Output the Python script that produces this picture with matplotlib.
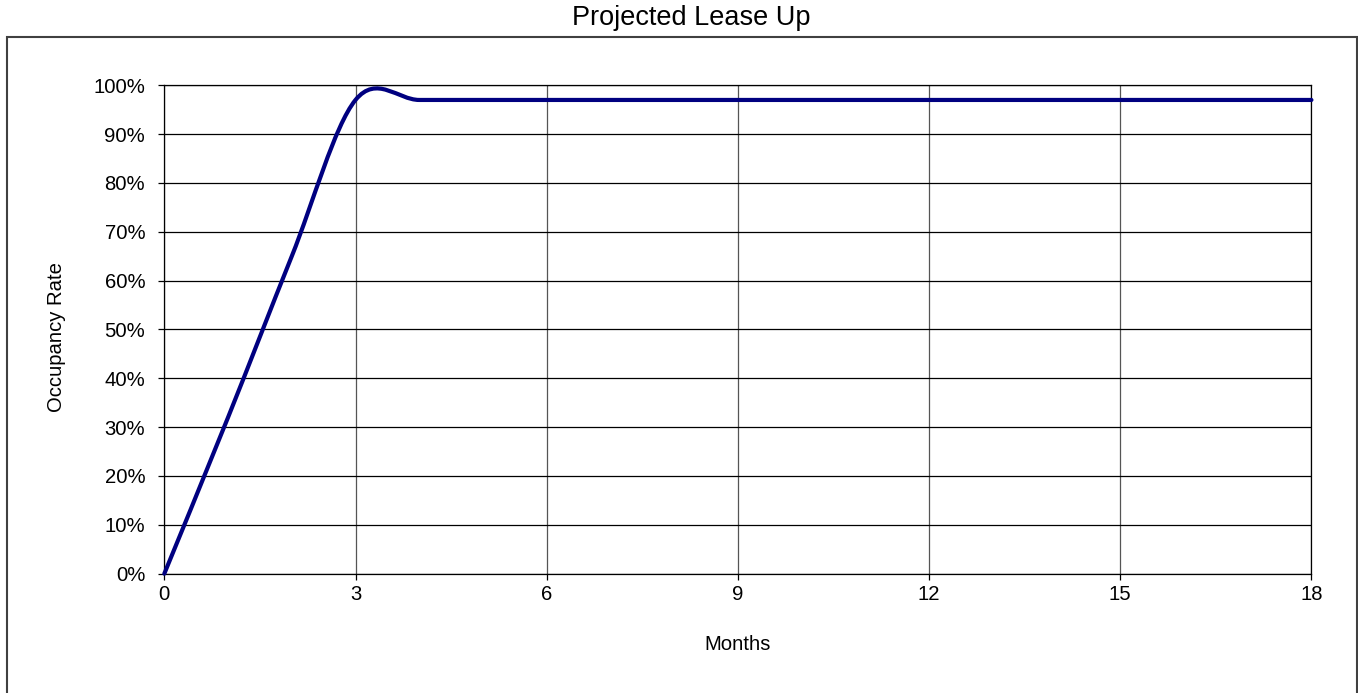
import numpy as np
import matplotlib
matplotlib.use("Agg")
import matplotlib.pyplot as plt
from matplotlib.path import Path
from matplotlib.patches import PathPatch, Rectangle
from matplotlib.ticker import PercentFormatter, MultipleLocator

# occupancy by month (fraction)
months = list(range(0, 19))
occupancy = [0.0, 0.32, 0.65, 0.97] + [0.97] * 15

title = "Projected Lease Up"
x_label = "Months"
y_label = "Occupancy Rate"

plt.rcParams['font.family'] = ['Liberation Sans', 'DejaVu Sans']


def smooth_path(xs, ys):
    '''Excel style smoothed line: Catmull-Rom segments as cubic beziers'''
    pts = np.column_stack([xs, ys]).astype(float)
    padded = np.vstack([pts[0], pts, pts[-1]])
    verts = [pts[0]]
    codes = [Path.MOVETO]
    for i in range(len(pts) - 1):
        p0, p1, p2, p3 = padded[i], padded[i + 1], padded[i + 2], padded[i + 3]
        c1 = p1 + (p2 - p0) / 6.0
        c2 = p2 - (p3 - p1) / 6.0
        verts += [c1, c2, p2]
        codes += [Path.CURVE4] * 3
    return Path(verts, codes)


fig = plt.figure(figsize=(13.58, 6.93), dpi=100)
ax = fig.add_axes([0.121, 0.1722, 0.8447, 0.7047])

# outer chart frame
fig.patches.append(Rectangle((7 / 1358, -0.02), 1349.5 / 1358, 1 - 36.5 / 693 + 0.02,
                             transform=fig.transFigure, fill=False,
                             edgecolor='#404040', linewidth=1.5))

ax.add_patch(PathPatch(smooth_path(months, occupancy), facecolor='none',
                       edgecolor='#000080', linewidth=3.0, capstyle='round',
                       joinstyle='round', clip_on=False, zorder=3))

ax.set_xlim(0, 18)
ax.set_ylim(0, 1.0)
ax.xaxis.set_major_locator(MultipleLocator(3))
ax.yaxis.set_major_locator(MultipleLocator(0.1))
ax.yaxis.set_major_formatter(PercentFormatter(1.0, decimals=0))

ax.grid(axis='y', color='black', linewidth=0.9)
ax.grid(axis='x', color='#555555', linewidth=0.9)
ax.set_axisbelow(True)
for s in ax.spines.values():
    s.set_color('black')
    s.set_linewidth(0.9)

ax.tick_params(axis='both', direction='out', length=4.3, width=0.9,
               labelsize=14.6, color='black')
ax.tick_params(axis='y', pad=9.5)
ax.tick_params(axis='x', pad=4)

ax.set_xlabel(x_label, fontsize=14.6, va='center')
ax.xaxis.set_label_coords(0.5, -0.146)
ax.set_ylabel(y_label, fontsize=14.6, va='center')
ax.yaxis.set_label_coords(-0.0944, 0.485)

fig.text(0.509, 1 - 18 / 693, title, ha='center', va='center', fontsize=19.5)

fig.savefig("out.png", dpi=100)
